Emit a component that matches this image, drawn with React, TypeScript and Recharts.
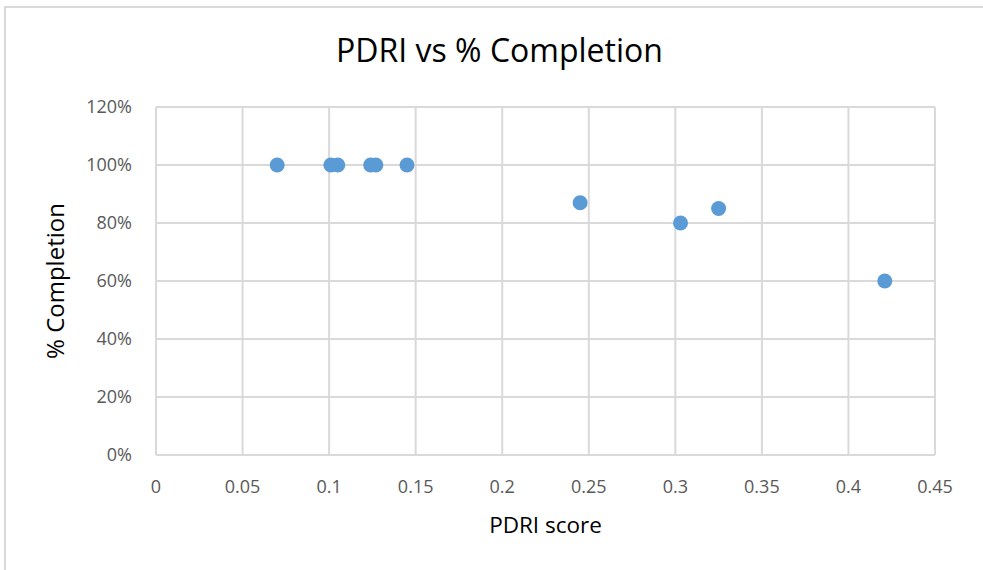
import React from 'react'
import {
  ScatterChart,
  Scatter,
  XAxis,
  YAxis,
  CartesianGrid
} from 'recharts'

// PDRI score vs share of work completed
const pdriScore = [0.07, 0.101, 0.105, 0.124, 0.127, 0.145, 0.245, 0.303, 0.325, 0.421]
const completion = [1.0, 1.0, 1.0, 1.0, 1.0, 1.0, 0.87, 0.8, 0.85, 0.6]

const xTicks = [0, 0.05, 0.1, 0.15, 0.2, 0.25, 0.3, 0.35, 0.4, 0.45]
const yTicks = [0, 0.2, 0.4, 0.6, 0.8, 1.0, 1.2]

const FONT = '"Open Sans", sans-serif'
const DOT = '#5B9BD5'
const GRID = '#d9d9d9'
const TICK = '#595959'

const data = pdriScore.map((x, i) => ({ x, y: completion[i] }))

const Dot = (props: any) => {
  const { cx, cy } = props
  if (cx == null || cy == null) return null
  return <circle cx={cx} cy={cy} r={7.5} fill={DOT} />
}

export default function App() {
  return (
    <div
      style={{
        position: 'absolute',
        left: 0,
        top: 0,
        width: 983,
        height: 570,
        background: '#fff',
        fontFamily: FONT,
        overflow: 'hidden'
      }}
    >
      {/* chart frame, only top and left edges are visible in the crop */}
      <div
        style={{
          position: 'absolute',
          left: 4,
          top: 6,
          width: 990,
          height: 580,
          borderTop: `2px solid ${GRID}`,
          borderLeft: `2px solid ${GRID}`
        }}
      />
      <div
        style={{
          position: 'absolute',
          left: 0,
          width: 983,
          top: 28,
          textAlign: 'center',
          fontSize: 32,
          lineHeight: 'normal',
          color: '#000',
          paddingLeft: 8
        }}
      >
        PDRI vs % Completion
      </div>
      <div style={{ position: 'absolute', left: 0, top: 0 }}>
        <ScatterChart
          width={983}
          height={570}
          margin={{ top: 107, right: 48, bottom: 0, left: 0 }}
          style={{ fontFamily: FONT }}
        >
          <CartesianGrid stroke={GRID} strokeWidth={2} />
          <XAxis
            type="number"
            dataKey="x"
            domain={[0, 0.45]}
            ticks={xTicks}
            interval={0}
            height={115}
            tickLine={false}
            tickMargin={19}
            axisLine={{ stroke: GRID, strokeWidth: 2 }}
            tick={{ fill: TICK, fontSize: 18 }}
            tickFormatter={(v: number) => String(v)}
            label={{
              value: 'PDRI score',
              position: 'insideBottom',
              offset: 37,
              style: { fill: '#000', fontSize: 22.5, fontFamily: FONT }
            }}
          />
          <YAxis
            type="number"
            dataKey="y"
            domain={[0, 1.2]}
            ticks={yTicks}
            interval={0}
            width={156}
            tickLine={false}
            axisLine={false}
            tickMargin={18}
            tick={{ fill: TICK, fontSize: 18 }}
            tickFormatter={(v: number) => `${Math.round(v * 100)}%`}
            label={{
              value: '% Completion',
              angle: -90,
              position: 'insideLeft',
              offset: 55,
              style: { textAnchor: 'middle', fill: '#000', fontSize: 24, fontFamily: FONT }
            }}
          />
          <Scatter data={data} shape={<Dot />} isAnimationActive={false} />
        </ScatterChart>
      </div>
    </div>
  )
}
